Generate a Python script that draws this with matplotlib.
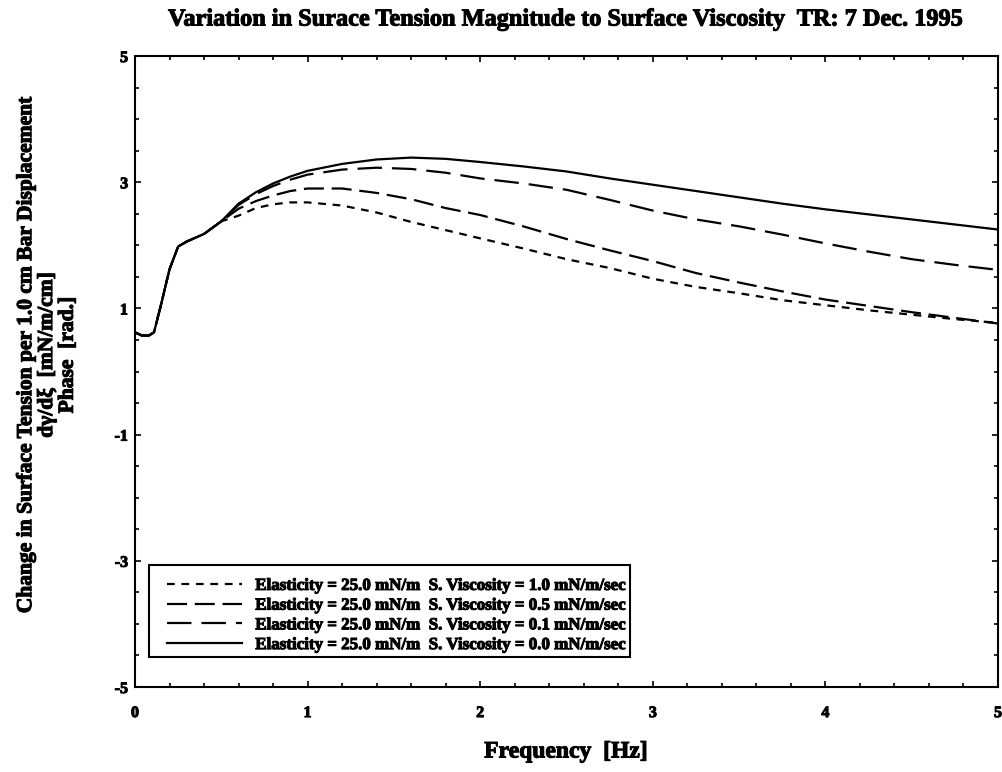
import matplotlib
matplotlib.use("Agg")
import matplotlib.pyplot as plt
import matplotlib.patheffects as pe
from matplotlib.patches import Rectangle
from matplotlib.ticker import MultipleLocator

plt.rcParams['font.family'] = ['Liberation Serif', 'DejaVu Serif']
plt.rcParams['font.weight'] = 'bold'
plt.rcParams['axes.unicode_minus'] = False

BOLD = [pe.withStroke(linewidth=0.75, foreground='black')]

freq = [0.0, 0.04, 0.08, 0.11, 0.15, 0.2, 0.25, 0.3, 0.4, 0.5,
        0.6, 0.7, 0.8, 0.9, 1.0, 1.2, 1.4, 1.6, 1.8, 2.0,
        2.25, 2.5, 2.75, 3.0, 3.25, 3.5, 3.75, 4.0, 4.25, 4.5, 4.75, 5.0]

common_start = [0.62, 0.57, 0.57, 0.62, 1.05, 1.62, 1.98, 2.06, 2.18, 2.38]

visc_10 = common_start + [2.47, 2.59, 2.65, 2.68, 2.68, 2.63, 2.52, 2.37, 2.24, 2.11,
                          1.95, 1.78, 1.64, 1.47, 1.34, 1.24, 1.13, 1.05, 0.97, 0.90, 0.83, 0.77]
visc_05 = common_start + [2.58, 2.70, 2.79, 2.86, 2.90, 2.90, 2.83, 2.73, 2.59, 2.48,
                          2.30, 2.10, 1.92, 1.75, 1.56, 1.41, 1.27, 1.14, 1.04, 0.94, 0.85, 0.76]
visc_01 = common_start + [2.64, 2.81, 2.94, 3.04, 3.12, 3.20, 3.23, 3.21, 3.15, 3.06,
                          2.98, 2.88, 2.72, 2.55, 2.41, 2.30, 2.17, 2.03, 1.90, 1.78, 1.69, 1.61]
visc_00 = common_start + [2.66, 2.84, 2.98, 3.09, 3.18, 3.29, 3.36, 3.39, 3.37, 3.32,
                          3.25, 3.17, 3.06, 2.96, 2.86, 2.76, 2.66, 2.57, 2.49, 2.41, 2.33, 2.25]

labels = ["Elasticity = 25.0 mN/m  S. Viscosity = 1.0 mN/m/sec",
          "Elasticity = 25.0 mN/m  S. Viscosity = 0.5 mN/m/sec",
          "Elasticity = 25.0 mN/m  S. Viscosity = 0.1 mN/m/sec",
          "Elasticity = 25.0 mN/m  S. Viscosity = 0.0 mN/m/sec"]

xticks = [0, 1, 2, 3, 4, 5]
yticks = [-5, -3, -1, 1, 3, 5]

W, H = 1002, 772
AX_L, AX_R, AX_T, AX_B = 135, 998, 56, 687
AXW, AXH = AX_R - AX_L, AX_B - AX_T

fig = plt.figure(figsize=(W / 100, H / 100), dpi=100)
ax = fig.add_axes([AX_L / W, (H - AX_B) / H, AXW / W, AXH / H])

lw = 1.6
ax.plot(freq, visc_10, color='black', lw=lw, linestyle=(0, (3.5, 3)), label=labels[0])
ax.plot(freq, visc_05, color='black', lw=lw, linestyle=(0, (9, 3.5)), label=labels[1])
ax.plot(freq, visc_01, color='black', lw=lw, linestyle=(0, (11, 4.5)), label=labels[2])
ax.plot(freq, visc_00, color='black', lw=lw, linestyle='-', label=labels[3])

ax.set_xlim(0, 5)
ax.set_ylim(-5, 5)
ax.set_xticks(xticks)
ax.set_yticks(yticks)
ax.xaxis.set_minor_locator(MultipleLocator(0.2))
ax.yaxis.set_minor_locator(MultipleLocator(0.5))
ax.tick_params(which='both', direction='in', top=True, right=True, width=1.2)
ax.tick_params(which='major', length=4)
ax.tick_params(which='minor', length=3)
ax.tick_params(axis='x', which='major', pad=13, labelsize=11.5)
ax.tick_params(axis='y', which='major', pad=5, labelsize=11.5)
for lab in ax.get_xticklabels() + ax.get_yticklabels():
    lab.set_path_effects(BOLD)
for sp in ax.spines.values():
    sp.set_linewidth(1.5)

# legend frame drawn separately for exact placement
frame = Rectangle(((149 - AX_L) / AXW, (AX_B - 657) / AXH), 481 / AXW, 92 / AXH,
                  transform=ax.transAxes, facecolor='white', edgecolor='black',
                  linewidth=1.5, zorder=4.5)
ax.add_patch(frame)

leg = ax.legend(loc='center left', bbox_to_anchor=((167 - AX_L) / AXW, (AX_B - 615.5) / AXH),
                borderaxespad=0, borderpad=0, frameon=False,
                prop={'size': 12.2}, handlelength=4.44, handletextpad=0.77,
                labelspacing=0.22)
leg.set_zorder(5)
for t in leg.get_texts():
    t.set_path_effects(BOLD)

fig.text(565 / W, 1 - 20 / H, "Variation in Surace Tension Magnitude to Surface Viscosity  TR: 7 Dec. 1995",
         ha='center', va='center', fontsize=17.5, path_effects=BOLD)
fig.text(566 / W, 1 - 752 / H, "Frequency  [Hz]", ha='center', va='center',
         fontsize=17, path_effects=BOLD)
fig.text(47 / W, 1 - 355 / H,
         "Change in Surface Tension per 1.0 cm Bar Displacement\ndγ/dξ  [mN/m/cm]\nPhase  [rad.]",
         ha='center', va='center', rotation=90, multialignment='center',
         fontsize=15.5, linespacing=1.05, path_effects=BOLD)

fig.savefig("out.png", dpi=100)
